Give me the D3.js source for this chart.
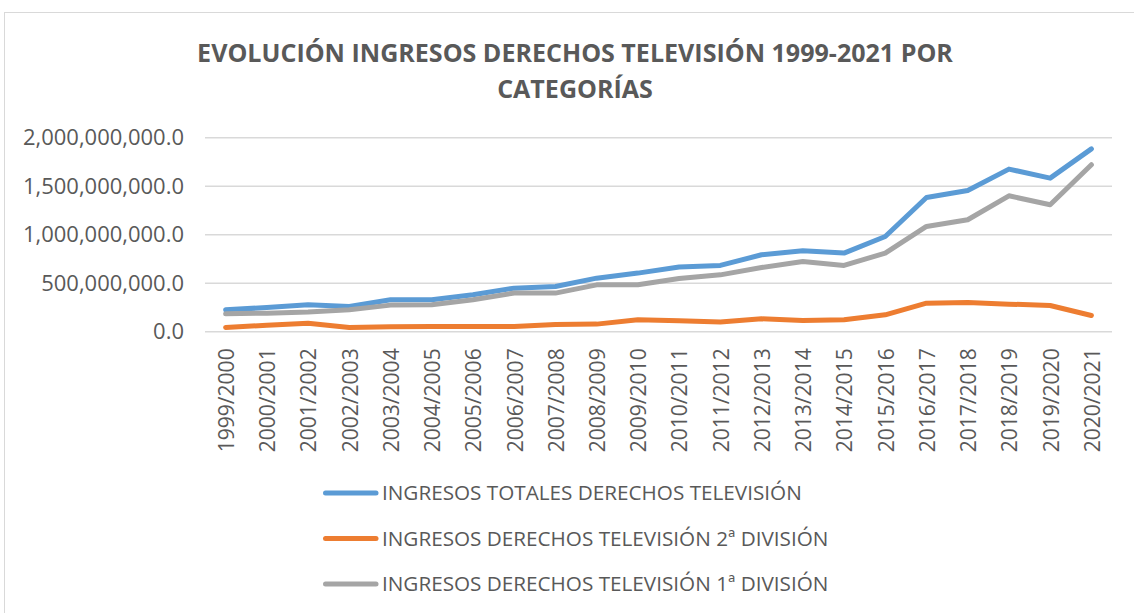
<!DOCTYPE html>
<html>
<head>
<meta charset="utf-8">
<script src="https://cdn.jsdelivr.net/npm/d3@7"></script>
<style>
  body { margin: 0; background: #fff; }
  svg text { fill: #595959; font-family: "Open Sans", sans-serif; }
</style>
</head>
<body>
<div id="chart"></div>
<script>
// temporadas
const seasons = ["1999/2000", "2000/2001", "2001/2002", "2002/2003", "2003/2004", "2004/2005",
  "2005/2006", "2006/2007", "2007/2008", "2008/2009", "2009/2010", "2010/2011", "2011/2012",
  "2012/2013", "2013/2014", "2014/2015", "2015/2016", "2016/2017", "2017/2018", "2018/2019",
  "2019/2020", "2020/2021"];

// millones de euros
const totales = [222, 245, 273, 256, 325, 325, 376, 445, 462, 548, 600, 662, 679, 789, 830, 806,
  977, 1379, 1452, 1672, 1579, 1881];
const segunda = [40, 62, 84, 40, 48, 50, 50, 50, 70, 74, 119, 108, 95, 129, 112, 119, 170, 290,
  297, 280, 266, 163];
const primera = [180, 187, 198, 222, 270, 273, 325, 394, 394, 479, 479, 545, 582, 658, 720, 679,
  806, 1081, 1150, 1397, 1304, 1717];

const seriesNames = ["INGRESOS TOTALES DERECHOS TELEVISIÓN",
  "INGRESOS DERECHOS TELEVISIÓN 2ª DIVISIÓN",
  "INGRESOS DERECHOS TELEVISIÓN 1ª DIVISIÓN"];
const seriesColors = ["#5b9bd5", "#ed7d31", "#a5a5a5"];
const yTicks = [0, 500e6, 1000e6, 1500e6, 2000e6];

const w = 1134, h = 613;
const series = [totales, segunda, primera].map((vals, i) => ({
  name: seriesNames[i],
  color: seriesColors[i],
  values: vals.map((v, j) => ({ season: seasons[j], value: v * 1e6 }))
}));

// ajusta el tamaño de letra de un grupo de textos para que el primero mida "target" px
const fitFont = (texts, target) => {
  const len = texts.node().getComputedTextLength();
  const fs = parseFloat(texts.attr("font-size"));
  texts.attr("font-size", (fs * target / len).toFixed(2) + "px");
};

const svg = d3.select("#chart").append("svg")
  .attr("width", w)
  .attr("height", h);

// marco del grafico
svg.append("rect")
  .attr("x", 4.5).attr("y", 12.5)
  .attr("width", w + 20).attr("height", h)
  .attr("fill", "none")
  .attr("stroke", "#d9d9d9");

// titulo
const titleLines = svg.selectAll(".title")
  .data(["EVOLUCIÓN INGRESOS DERECHOS TELEVISIÓN 1999-2021 POR", "CATEGORÍAS"])
  .enter()
  .append("text")
  .attr("class", "title")
  .attr("x", 575)
  .attr("y", (d, i) => 62 + i * 36)
  .attr("text-anchor", "middle")
  .attr("font-weight", "bold")
  .attr("font-size", "24px")
  .text(d => d);
fitFont(titleLines, 756);

const xScale = d3.scaleBand()
  .domain(seasons)
  .range([205, 1112]);

const yScale = d3.scaleLinear()
  .domain([0, 2000e6])
  .range([331.3, 137.3]);

// rejilla y eje y
const yAxis = d3.axisLeft(yScale)
  .tickValues(yTicks)
  .tickSize(-(1112 - 205))
  .tickPadding(21)
  .tickFormat(d3.format(",.1f"));

const yAxisG = svg.append("g")
  .attr("class", "axis-y")
  .attr("transform", "translate(205, 0)")
  .call(yAxis)
  .call(g => g.select(".domain").remove())
  .call(g => g.selectAll("line").attr("stroke", "#d9d9d9").attr("stroke-width", 1.5));

const yLabels = yAxisG.selectAll("text")
  .attr("font-family", null)
  .attr("font-size", "19px")
  .attr("fill", "#595959")
  .attr("dy", "0.34em");
const topLabel = yLabels.filter(d => d === 2000e6);
fitFont(topLabel, 161);
yLabels.attr("font-size", topLabel.attr("font-size"));

// eje x
const xAxis = d3.axisBottom(xScale).tickSize(0).tickPadding(0);
const xAxisG = svg.append("g")
  .attr("class", "axis-x")
  .attr("transform", "translate(0, 331.3)")
  .call(xAxis)
  .call(g => g.select(".domain").remove());

const xLabels = xAxisG.selectAll("text")
  .attr("font-family", null)
  .attr("font-size", "18px")
  .attr("fill", "#595959")
  .attr("text-anchor", "end")
  .attr("transform", "translate(1, 17) rotate(-90)")
  .attr("x", 0)
  .attr("y", 0)
  .attr("dy", "0.35em");
fitFont(xLabels, 104);

// lineas
const line = d3.line()
  .x(d => xScale(d.season) + xScale.bandwidth() / 2)
  .y(d => yScale(d.value));

svg.selectAll(".serie")
  .data(series)
  .enter()
  .append("path")
  .attr("class", "serie")
  .attr("d", d => line(d.values))
  .attr("fill", "none")
  .attr("stroke", d => d.color)
  .attr("stroke-width", 5)
  .attr("stroke-linejoin", "round")
  .attr("stroke-linecap", "round");

// leyenda
const legend = svg.selectAll(".legend")
  .data(series)
  .enter()
  .append("g")
  .attr("class", "legend")
  .attr("transform", (d, i) => `translate(322, ${493 + i * 45.5})`);

legend.append("line")
  .attr("x1", 3.5).attr("x2", 54)
  .attr("stroke", d => d.color)
  .attr("stroke-width", 5)
  .attr("stroke-linecap", "round");

const legendText = legend.append("text")
  .attr("x", 60)
  .attr("dy", "0.35em")
  .attr("font-size", "18px")
  .text(d => d.name);
fitFont(legendText, 420);
</script>
</body>
</html>
